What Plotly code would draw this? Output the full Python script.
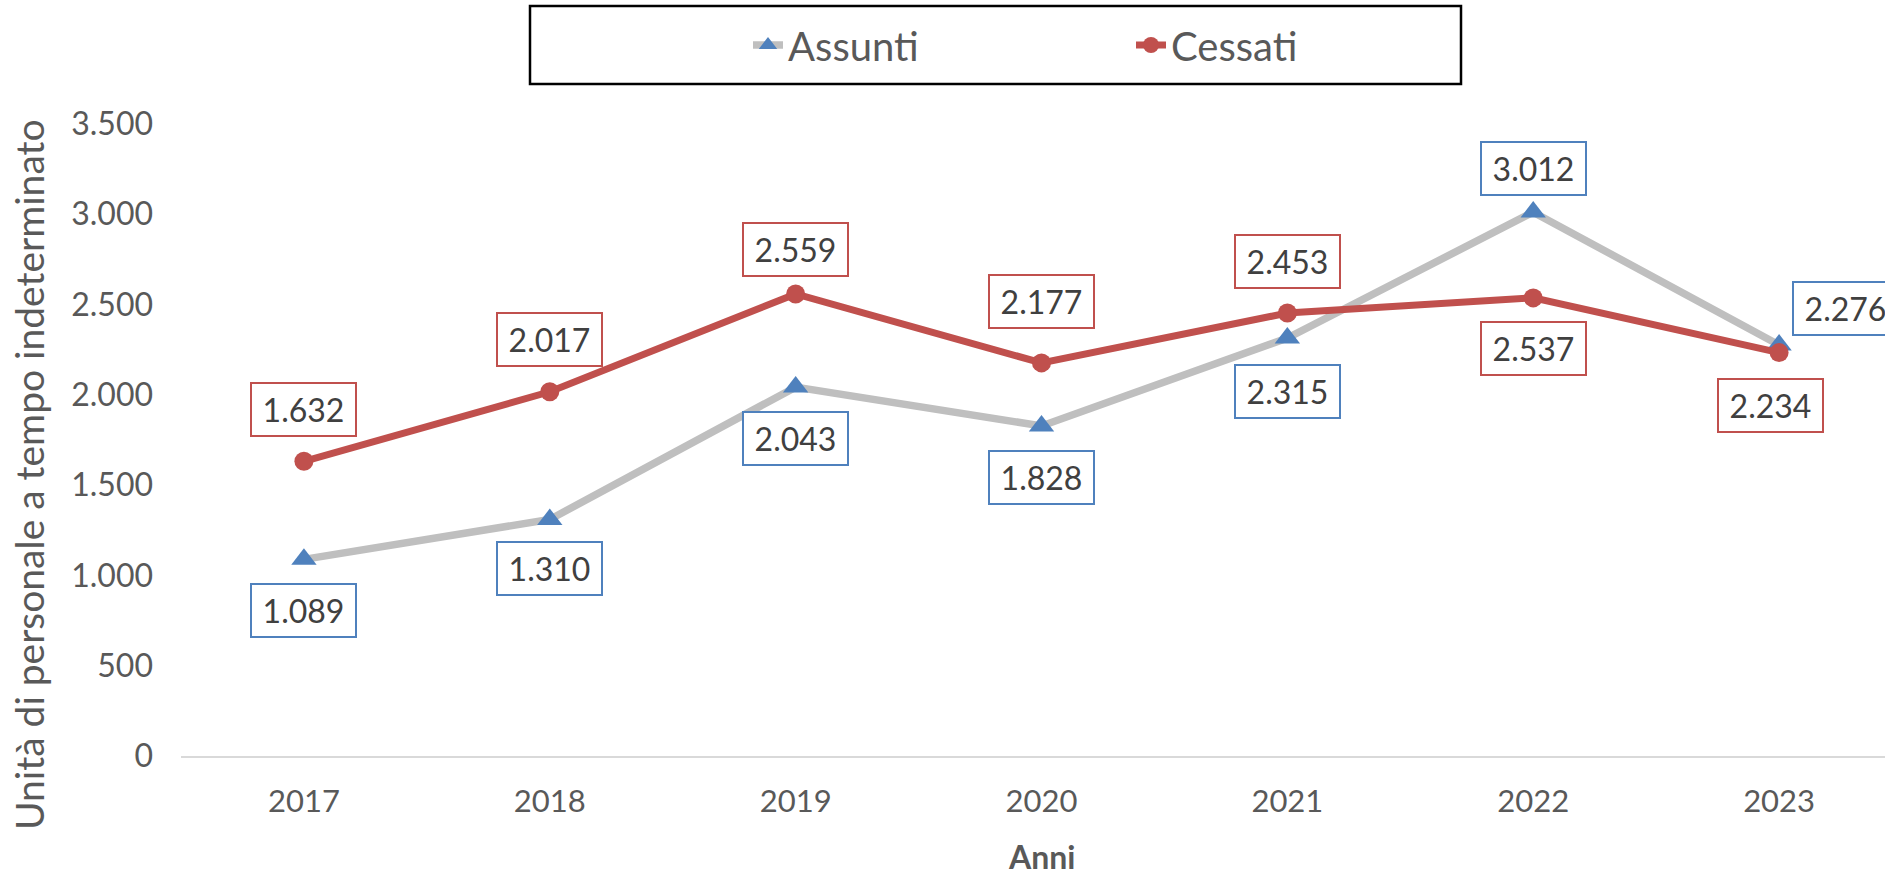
import plotly.graph_objects as go

years = ["2017", "2018", "2019", "2020", "2021", "2022", "2023"]
assunti = [1089, 1310, 2043, 1828, 2315, 3012, 2276]
cessati = [1632, 2017, 2559, 2177, 2453, 2537, 2234]

# label placement (style): vertical shift in px (positive = up), horizontal shift in px
assunti_dy = [-51, -49, -51, -52, -54, 44, 37]
assunti_dx = [0, 0, 0, 0, 0, 0, 66]
cessati_dy = [52, 52, 44, 61, 52, -51, -53]
cessati_dx = [0, 0, 0, 0, 0, 0, -9]

FONT = "Lato, 'Open Sans', sans-serif"
GRAY_LINE = "#BFBFBF"
BLUE = "#4F81BD"
RED = "#C0504D"
TXT = "#595959"
LBL = "#404040"

W, H = 1885, 879
ML, MR, MT, MB = 181, 0, 124, 123
PW, PH = W - ML - MR, H - MT - MB


def px_x(p):
    return (p - ML) / PW


def px_y(p):
    return (H - MB - p) / PH


def fmt(v):
    return f"{v:,}".replace(",", ".")


fig = go.Figure()
fig.add_trace(go.Scatter(
    x=years, y=assunti, name="Assunti", mode="lines+markers",
    line=dict(color=GRAY_LINE, width=7.5),
    marker=dict(symbol="triangle-up", size=22, color=BLUE),
    cliponaxis=False,
))
fig.add_trace(go.Scatter(
    x=years, y=cessati, name="Cessati", mode="lines+markers",
    line=dict(color=RED, width=7),
    marker=dict(symbol="circle", size=19, color=RED),
    cliponaxis=False,
))

annotations = []
for vals, dys, dxs, col in ((assunti, assunti_dy, assunti_dx, BLUE),
                            (cessati, cessati_dy, cessati_dx, RED)):
    for i, (v, dy, dx) in enumerate(zip(vals, dys, dxs)):
        annotations.append(dict(
            x=i, y=v, xref="x", yref="y", text=fmt(v), showarrow=False,
            xanchor="center", yanchor="middle", xshift=dx, yshift=dy,
            font=dict(family=FONT, size=32, color=LBL),
            bgcolor="white", bordercolor=col, borderwidth=2, borderpad=2,
            width=99, height=47,
        ))

annotations.append(dict(
    x=(len(years) - 1) / 2, y=px_y(856), xref="x", yref="paper",
    text="<b>Anni</b>", showarrow=False, xanchor="center", yanchor="middle",
    font=dict(family=FONT, size=32, color=TXT),
))
annotations.append(dict(
    x=px_x(29), y=px_y(475), xref="paper", yref="paper",
    text="Unità di personale a tempo indeterminato", showarrow=False,
    textangle=-90, xanchor="center", yanchor="middle",
    font=dict(family=FONT, size=39, color=TXT),
))

fig.update_layout(
    width=W, height=H,
    margin=dict(l=ML, r=MR, t=MT, b=MB),
    paper_bgcolor="white", plot_bgcolor="white",
    separators=",.",
    showlegend=True,
    legend=dict(
        orientation="h", x=px_x(748), y=px_y(45), xanchor="left", yanchor="middle",
        font=dict(family=FONT, size=40, color=TXT),
        entrywidth=338, bgcolor="rgba(0,0,0,0)", borderwidth=0,
    ),
    xaxis=dict(
        type="category", range=[-0.5, len(years) - 0.5 - 17 / 245.8],
        showgrid=False, zeroline=False, showline=True, linecolor="#D9D9D9", linewidth=2,
        ticks="", tickfont=dict(family=FONT, size=31, color=TXT), ticklabelstandoff=17,
    ),
    yaxis=dict(
        range=[0, 3500], dtick=500, tickformat=",d",
        showgrid=False, zeroline=False, showline=False,
        ticks="", tickfont=dict(family=FONT, size=32, color=TXT), ticklabelstandoff=27,
    ),
    annotations=annotations,
    shapes=[dict(
        type="rect", xref="paper", yref="paper",
        x0=px_x(530), x1=px_x(1461), y0=px_y(84), y1=px_y(6),
        line=dict(color="black", width=2.5), fillcolor="rgba(0,0,0,0)",
    )],
)

fig.write_html(
    "out.html",
    config={"displayModeBar": False},
    post_script="document.body.style.margin='0';document.body.style.overflow='hidden';",
)
